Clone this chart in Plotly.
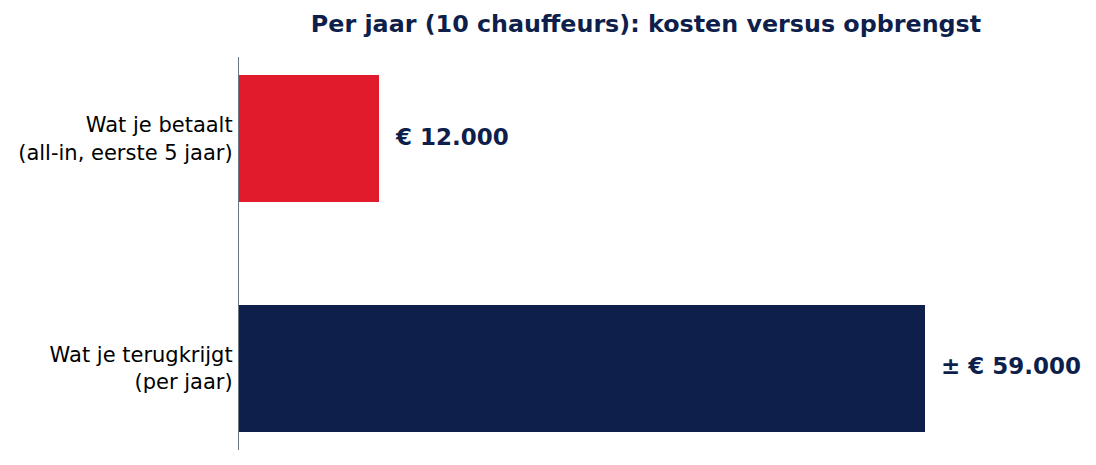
import plotly.graph_objects as go

categories = ["Wat je betaalt<br>(all-in, eerste 5 jaar)", "Wat je terugkrijgt<br>(per jaar)"]
values = [12000, 59000]
value_labels = ["€ 12.000", "± € 59.000"]
bar_colors = ["#E11B2C", "#0F1F4B"]

navy = "#0F1F4B"
font_family = "DejaVu Sans"

fig = go.Figure()
fig.add_trace(go.Bar(
    x=values,
    y=categories,
    orientation="h",
    marker=dict(color=bar_colors, line=dict(width=0)),
    width=0.55,
    hoverinfo="skip",
))

# value labels to the right of each bar
for cat, val, lab in zip(categories, values, value_labels):
    fig.add_annotation(
        x=val, y=cat, text="<b>" + lab + "</b>",
        xanchor="left", yanchor="middle", xshift=14, yshift=2, showarrow=False,
        font=dict(family=font_family, size=23, color=navy),
    )

# page has an 8px body margin, so the figure is 8px smaller
fig.update_layout(
    width=1088, height=457,
    margin=dict(l=231, r=43, t=49, b=15),
    paper_bgcolor="white", plot_bgcolor="white",
    font=dict(family=font_family, size=21, color="black"),
    title=dict(
        text="<b>Per jaar (10 chauffeurs): kosten versus opbrengst</b>",
        x=0.5, xref="paper", xanchor="center",
        y=1 - 16 / 457, yref="container", yanchor="middle",
        font=dict(family=font_family, size=23.8, color=navy),
    ),
    showlegend=False,
    bargap=0,
)
fig.update_xaxes(range=[0, 70000], visible=False, showgrid=False, zeroline=False)
fig.update_yaxes(
    range=[1.355, -0.355], showgrid=False, zeroline=False,
    showline=True, linecolor="#6B7785", linewidth=1.2, ticks="",
    ticklabelstandoff=1, automargin=False,
    tickfont=dict(family=font_family, size=21, color="black"),
)

fig.write_html("out.html")
